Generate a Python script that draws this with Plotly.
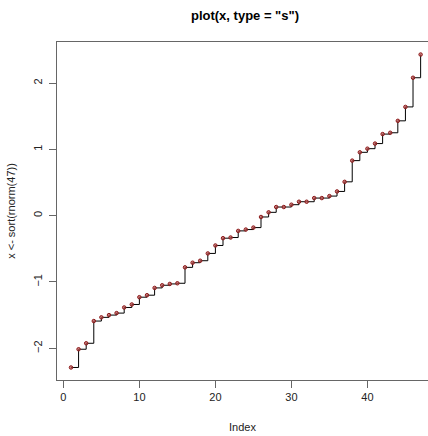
import plotly.graph_objects as go

index = list(range(1, 48))
values = [-2.29, -2.015, -1.925, -1.59, -1.534, -1.50, -1.47, -1.385, -1.34, -1.23,
          -1.20, -1.09, -1.05, -1.03, -1.02, -0.78, -0.71, -0.68, -0.57, -0.45,
          -0.34, -0.33, -0.23, -0.21, -0.18, -0.02, 0.05, 0.13, 0.13, 0.165,
          0.21, 0.21, 0.265, 0.265, 0.295, 0.365, 0.51, 0.83, 0.955, 1.01,
          1.087, 1.23, 1.25, 1.43, 1.64, 2.08, 2.43]
x_ticks = [0, 10, 20, 30, 40]
y_ticks = [-2, -1, 0, 1, 2]

font = "Liberation Sans, Arial, sans-serif"

fig = go.Figure()
fig.add_trace(go.Scatter(x=index, y=values, mode="lines", line_shape="hv",
                         line=dict(color="black", width=1), hoverinfo="skip",
                         cliponaxis=False))
fig.add_trace(go.Scatter(x=index, y=values, mode="markers", cliponaxis=False,
                         marker=dict(symbol="circle", size=3.5,
                                     color="rgba(190,80,80,0.7)",
                                     line=dict(color="#8B1A1A", width=1))))

fig.update_layout(
    width=428, height=436,
    margin=dict(l=57, r=0, t=42, b=56, autoexpand=False),
    paper_bgcolor="white", plot_bgcolor="white",
    showlegend=False,
    font=dict(family=font, size=11, color="black"),
    title=dict(text='<b>plot(x, type = "s")</b>', x=245 / 428, xanchor="center",
               y=1 - 15 / 436, yanchor="middle",
               font=dict(family=font, size=13, color="black")),
)
fig.update_xaxes(range=[-0.84, 47.97], tickvals=x_ticks, showgrid=False, zeroline=False,
                 automargin=False,
                 showline=True, linecolor="#666", linewidth=1, mirror=True,
                 ticks="outside", ticklen=7, tickcolor="#666",
                 tickfont=dict(size=11, color="#222"),
                 title=dict(text="Index", font=dict(size=11, color="#222"), standoff=21))
fig.update_yaxes(range=[-2.479, 2.619], tickvals=y_ticks, showgrid=False, zeroline=False,
                 automargin=False,
                 showline=True, linecolor="#666", linewidth=1, mirror=False,
                 ticks="outside", ticklen=7, tickcolor="#666", tickangle=-90,
                 ticklabelstandoff=3,
                 tickfont=dict(size=11, color="#222"),
                 title=dict(text="x <- sort(rnorm(47))", font=dict(size=11, color="#222"),
                            standoff=13))

fig.write_html("out.html", config={"displayModeBar": False},
               post_script="document.body.style.margin='0';document.body.style.overflow='hidden';")
